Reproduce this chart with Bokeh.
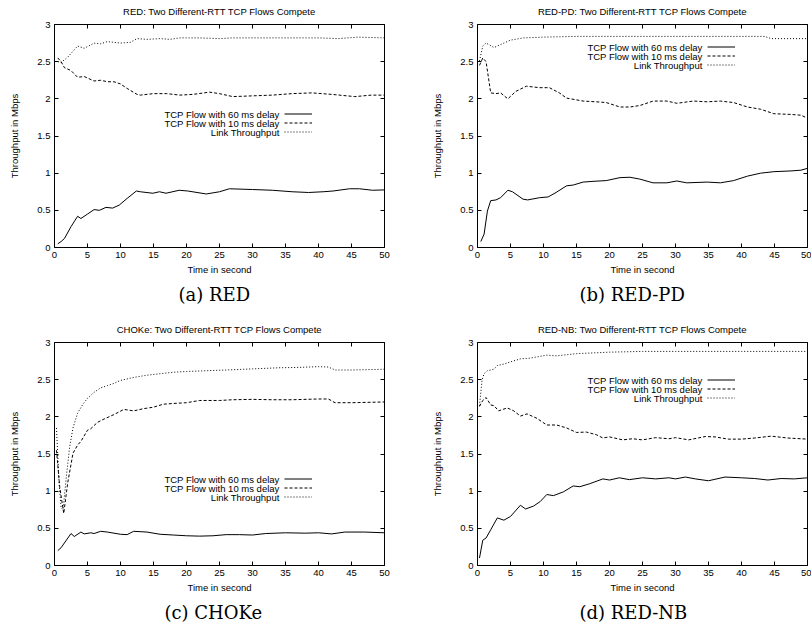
from bokeh.plotting import figure
from bokeh.layouts import column, row
from bokeh.models import (Range1d, FixedTicker, LinearAxis, Label, Legend, Title,
                          LegendItem, CustomJSTickFormatter)
from bokeh.embed import file_html
from bokeh.resources import INLINE

# ---------------- data ----------------
x_ticks = [0, 5, 10, 15, 20, 25, 30, 35, 40, 45, 50]
y_ticks = [0, 0.5, 1, 1.5, 2, 2.5, 3]
legend_labels = ["TCP Flow with 60 ms delay", "TCP Flow with 10 ms delay", "Link Throughput"]
titles = ["RED: Two Different-RTT TCP Flows Compete",
          "RED-PD: Two Different-RTT TCP Flows Compete",
          "CHOKe: Two Different-RTT TCP Flows Compete",
          "RED-NB: Two Different-RTT TCP Flows Compete"]
captions = ["(a) RED", "(b) RED-PD", "(c) CHOKe", "(d) RED-NB"]

# (a) RED
red_t60 = [0.5, 1.0, 1.5, 2.5, 3.5, 4.0, 5.0, 6.0, 6.8, 7.8, 8.8, 9.8, 11.0, 12.4, 13.0, 14.9, 15.9,
           16.9, 18.9, 20.2, 23.0, 25.0, 26.5, 30.0, 33.0, 36.0, 38.5, 40.7, 42.2, 44.7, 46.2, 48.2, 50.0]
red_y60 = [0.05, 0.08, 0.12, 0.28, 0.42, 0.39, 0.45, 0.51, 0.50, 0.54, 0.53, 0.57, 0.66, 0.76, 0.75, 0.73, 0.75,
           0.73, 0.77, 0.76, 0.72, 0.75, 0.79, 0.78, 0.77, 0.75, 0.74, 0.75, 0.76, 0.79, 0.79, 0.77, 0.775]
red_t10 = [0.5, 1.0, 1.5, 2.5, 3.5, 4.5, 5.0, 6.0, 7.0, 8.0, 9.0, 10.0, 11.0, 12.5, 13.0, 15.0, 17.0,
           19.0, 21.0, 23.5, 25.0, 27.0, 30.0, 33.0, 36.0, 39.0, 42.0, 45.5, 48.0, 50.0]
red_y10 = [2.55, 2.50, 2.42, 2.38, 2.29, 2.30, 2.28, 2.24, 2.25, 2.23, 2.23, 2.20, 2.14, 2.06, 2.05, 2.07, 2.07,
           2.05, 2.06, 2.09, 2.07, 2.03, 2.04, 2.05, 2.07, 2.08, 2.06, 2.03, 2.05, 2.05]
red_tl = [0.5, 1.0, 2.0, 3.5, 4.5, 6.0, 7.0, 8.0, 9.0, 10.0, 11.5, 12.5, 14.0, 16.0, 17.5, 19.0, 22.0,
          25.0, 27.0, 30.0, 33.0, 36.0, 40.0, 43.0, 46.0, 50.0]
red_yl = [2.50, 2.49, 2.56, 2.71, 2.68, 2.75, 2.74, 2.77, 2.76, 2.75, 2.76, 2.81, 2.80, 2.81, 2.80, 2.82, 2.82,
          2.81, 2.82, 2.82, 2.82, 2.82, 2.82, 2.81, 2.83, 2.82]

# (b) RED-PD
pd_t60 = [0.5, 1.0, 1.5, 2.0, 2.8, 3.5, 4.6, 5.3, 6.9, 7.6, 9.4, 10.7, 11.9, 13.5, 14.5, 16.0, 17.5, 19.5,
          21.6, 23.1, 24.6, 26.6, 28.7, 30.2, 31.7, 34.8, 36.8, 38.8, 40.9, 42.9, 44.9, 47.5, 49.0, 50.0]
pd_y60 = [0.08, 0.18, 0.49, 0.63, 0.64, 0.67, 0.77, 0.75, 0.65, 0.64, 0.67, 0.68, 0.74, 0.83, 0.84, 0.88, 0.89, 0.90,
          0.94, 0.945, 0.92, 0.87, 0.87, 0.895, 0.87, 0.88, 0.87, 0.90, 0.96, 1.00, 1.02, 1.03, 1.04, 1.065]
pd_t10 = [0.3, 0.8, 1.3, 2.0, 2.8, 3.5, 4.6, 5.8, 7.4, 9.4, 10.9, 12.4, 13.5, 16.0, 18.0, 19.5, 21.6, 23.1,
          24.6, 26.6, 28.7, 30.2, 32.7, 34.8, 36.8, 38.8, 40.9, 42.9, 44.9, 47.5, 49.0, 50.0]
pd_y10 = [2.45, 2.55, 2.50, 2.08, 2.07, 2.08, 2.00, 2.10, 2.17, 2.15, 2.15, 2.08, 2.01, 1.97, 1.96, 1.95, 1.89, 1.89,
          1.91, 1.97, 1.97, 1.94, 1.97, 1.96, 1.97, 1.95, 1.89, 1.86, 1.80, 1.79, 1.78, 1.74]
pd_tl = [0.3, 0.8, 1.3, 2.5, 4.0, 5.0, 7.0, 10.0, 15.0, 25.0, 35.0, 43.5, 44.5, 50.0]
pd_yl = [2.51, 2.71, 2.75, 2.69, 2.75, 2.79, 2.82, 2.83, 2.84, 2.84, 2.84, 2.84, 2.81, 2.81]

# (c) CHOKe
ch_t60 = [0.5, 1.0, 2.5, 3.0, 4.0, 4.5, 5.5, 6.0, 7.0, 8.0, 10.0, 11.0, 12.0, 14.0, 16.0, 18.0, 20.0, 22.0,
          24.0, 26.0, 28.0, 30.0, 32.0, 35.0, 38.0, 40.0, 42.0, 44.0, 47.0, 50.0]
ch_y60 = [0.20, 0.24, 0.43, 0.39, 0.45, 0.425, 0.44, 0.43, 0.46, 0.45, 0.42, 0.415, 0.46, 0.45, 0.42, 0.41, 0.40, 0.395,
          0.40, 0.415, 0.415, 0.41, 0.43, 0.44, 0.435, 0.44, 0.425, 0.45, 0.45, 0.44]
ch_t10 = [0.3, 0.8, 1.4, 2.0, 2.8, 3.5, 4.0, 5.0, 5.5, 6.5, 7.5, 9.0, 10.5, 12.0, 13.5, 15.0, 16.5, 18.0,
          20.0, 22.0, 25.0, 27.0, 30.0, 33.0, 36.0, 40.0, 41.5, 42.5, 45.0, 50.0]
ch_y10 = [1.55, 1.05, 0.70, 1.11, 1.51, 1.62, 1.67, 1.82, 1.84, 1.925, 1.97, 2.03, 2.10, 2.08, 2.11, 2.13, 2.17, 2.18,
          2.19, 2.22, 2.22, 2.23, 2.235, 2.23, 2.23, 2.24, 2.24, 2.19, 2.19, 2.20]
ch_tl = [0.3, 0.7, 1.0, 1.3, 1.8, 2.3, 2.8, 3.5, 4.3, 5.0, 6.0, 7.0, 8.0, 9.0, 10.0, 12.0, 14.0, 16.0,
         18.0, 20.0, 23.0, 26.0, 30.0, 34.0, 37.0, 40.0, 41.5, 42.5, 45.0, 50.0]
ch_yl = [1.85, 1.10, 0.78, 0.75, 1.20, 1.60, 1.85, 2.05, 2.17, 2.25, 2.33, 2.39, 2.42, 2.45, 2.49, 2.53, 2.56, 2.58,
         2.60, 2.61, 2.62, 2.63, 2.645, 2.66, 2.665, 2.675, 2.67, 2.63, 2.63, 2.64]

# (d) RED-NB
nb_t60 = [0.3, 0.8, 1.3, 2.0, 3.0, 4.0, 5.0, 6.5, 7.3, 8.5, 9.5, 10.5, 11.5, 13.0, 14.5, 15.5, 17.0, 19.0,
          20.0, 21.5, 23.0, 25.0, 27.0, 29.0, 30.0, 31.5, 33.0, 35.0, 37.5, 40.0, 42.0, 44.0, 46.0, 48.0, 50.0]
nb_y60 = [0.10, 0.34, 0.37, 0.48, 0.64, 0.61, 0.66, 0.81, 0.76, 0.80, 0.86, 0.955, 0.94, 0.99, 1.07, 1.06, 1.10, 1.165,
          1.15, 1.18, 1.155, 1.18, 1.165, 1.18, 1.165, 1.19, 1.165, 1.14, 1.19, 1.18, 1.17, 1.15, 1.17, 1.165, 1.18]
nb_t10 = [0.3, 0.8, 1.3, 2.0, 2.5, 3.2, 4.5, 5.5, 6.5, 7.5, 9.0, 10.5, 12.0, 13.5, 15.0, 16.5, 18.0, 19.0,
          20.0, 22.0, 23.5, 25.0, 27.0, 29.0, 30.0, 32.0, 34.5, 36.0, 38.0, 40.0, 42.0, 44.5, 47.0, 50.0]
nb_y10 = [2.14, 2.22, 2.26, 2.16, 2.15, 2.08, 2.12, 2.08, 2.01, 2.04, 1.98, 1.89, 1.89, 1.85, 1.79, 1.795, 1.76, 1.715,
          1.73, 1.69, 1.705, 1.69, 1.72, 1.705, 1.72, 1.69, 1.735, 1.73, 1.70, 1.70, 1.715, 1.74, 1.715, 1.70]
nb_tl = [0.3, 0.7, 1.0, 1.5, 2.5, 3.0, 4.0, 5.0, 6.5, 8.0, 10.5, 12.0, 15.0, 20.0, 25.0, 30.0, 40.0, 50.0]
nb_yl = [2.15, 2.50, 2.58, 2.62, 2.64, 2.69, 2.71, 2.74, 2.78, 2.79, 2.83, 2.82, 2.85, 2.87, 2.88, 2.88, 2.88, 2.88]

# ---------------- styling / layout ----------------
SANS = "Liberation Sans"
SERIF = "DejaVu Serif"
FS = "9.5px"
FRAME_W, FRAME_H = 330, 223
dashes = ["solid", "3 2", "1 2"]


def make_panel(title, caption, series, legend_bottom, left, right, top, bottom, cap_offset):
    p = figure(frame_width=FRAME_W, frame_height=FRAME_H, output_backend="svg",
               toolbar_location=None, x_range=Range1d(0, 50), y_range=Range1d(0, 3),
               min_border_left=left, min_border_right=right,
               min_border_top=top, min_border_bottom=bottom,
               background_fill_color="white", border_fill_color="white")
    p.xgrid.visible = False
    p.ygrid.visible = False
    p.outline_line_color = "black"
    p.outline_line_width = 1
    p.outline_line_alpha = 1

    p.title = Title(text=title, align="center", vertical_align="top", standoff=11,
                    text_font=SANS, text_font_size=FS, text_font_style="normal",
                    text_color="black")

    renderers = []
    for (t, y), dash in zip(series, dashes):
        r = p.line(t, y, line_color="black", line_width=1, line_dash=dash)
        renderers.append(r)

    for ax in (p.xaxis[0], p.yaxis[0]):
        ax.axis_line_color = None
        ax.major_tick_in = 4
        ax.major_tick_out = 0
        ax.minor_tick_line_color = None
        ax.major_tick_line_color = "black"
        ax.major_label_text_font = SANS
        ax.major_label_text_font_size = FS
        ax.major_label_text_color = "black"
        ax.axis_label_text_font = SANS
        ax.axis_label_text_font_size = FS
        ax.axis_label_text_font_style = "normal"
        ax.axis_label_text_color = "black"
    p.xaxis.ticker = FixedTicker(ticks=x_ticks)
    p.yaxis.ticker = FixedTicker(ticks=y_ticks)
    p.yaxis.formatter = CustomJSTickFormatter(code="return String(tick);")
    p.xaxis.axis_label = "Time in second"
    p.yaxis.axis_label = "Throughput in Mbps"
    p.xaxis.major_label_standoff = 4
    p.xaxis.axis_label_standoff = 3
    p.yaxis.major_label_standoff = 4
    p.yaxis.axis_label_standoff = 14

    # mirror ticks on top and right
    for loc, ticks in (("above", x_ticks), ("right", y_ticks)):
        ax = LinearAxis(ticker=FixedTicker(ticks=ticks),
                        formatter=CustomJSTickFormatter(code="return '';"),
                        axis_line_color=None, major_tick_in=4, major_tick_out=0,
                        minor_tick_line_color=None, major_tick_line_color="black",
                        major_label_text_font_size="0px", major_label_standoff=0)
        p.add_layout(ax, loc)

    # caption below the axis
    p.add_layout(Title(text=caption, align="left", offset=cap_offset, vertical_align="middle",
                       standoff=11, text_font=SERIF, text_font_size="18px",
                       text_font_style="normal", text_color="black"), "below")

    # legend: samples drawn by bokeh legend, texts placed to their left
    items = [LegendItem(label=" ", renderers=[r]) for r in renderers]
    leg = Legend(items=items, location=(230, legend_bottom), padding=0, margin=0,
                 spacing=0, glyph_width=28, glyph_height=9, label_height=9,
                 label_width=0, label_standoff=0, border_line_alpha=0,
                 background_fill_alpha=0, label_text_font_size="1px")
    p.add_layout(leg)
    for i, txt in enumerate(legend_labels):
        p.add_layout(Label(x=225, y=legend_bottom + 22.5 - 9 * i, x_units="screen", y_units="screen",
                           text=txt, text_align="right", text_baseline="middle",
                           text_font=SANS, text_font_size=FS, text_color="black"))
    return p


pa = make_panel(titles[0], captions[0], [(red_t60, red_y60), (red_t10, red_y10), (red_tl, red_yl)],
                111, 54, 25, 24, 70, 124)
pb = make_panel(titles[1], captions[1], [(pd_t60, pd_y60), (pd_t10, pd_y10), (pd_tl, pd_yl)],
                178, 68, 4, 24, 70, 102)
pc = make_panel(titles[2], captions[2], [(ch_t60, ch_y60), (ch_t10, ch_y10), (ch_tl, ch_yl)],
                64, 54, 25, 25, 62, 110)
pd = make_panel(titles[3], captions[3], [(nb_t60, nb_y60), (nb_t10, nb_y10), (nb_tl, nb_yl)],
                163, 68, 4, 25, 62, 102)

layout = column(row(pa, pb), row(pc, pd))
open("out.html", "w").write(file_html(layout, INLINE))
